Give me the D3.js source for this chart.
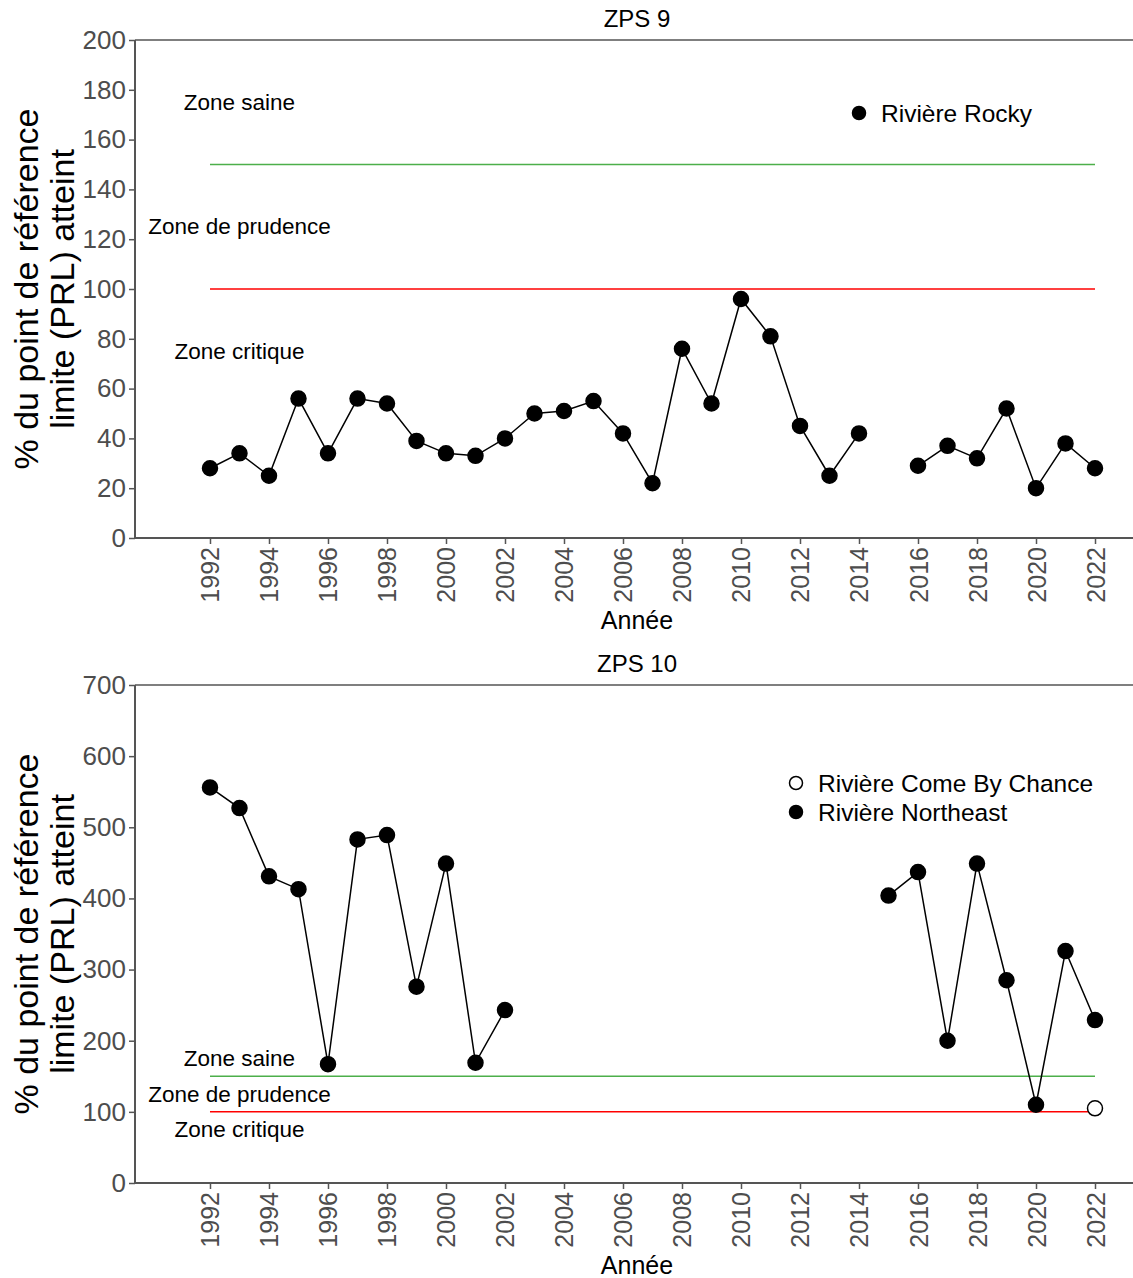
<!DOCTYPE html>
<html>
<head>
<meta charset="utf-8">
<script src="https://cdn.jsdelivr.net/npm/d3@7"></script>
<style>
  body { margin: 0; background: #fff; }
  text { font-family: "Liberation Sans", Arial, sans-serif; }
</style>
</head>
<body>
<div id="chart"></div>
<script>
// ---- data ----
const years = [1992, 1993, 1994, 1995, 1996, 1997, 1998, 1999, 2000, 2001, 2002,
               2003, 2004, 2005, 2006, 2007, 2008, 2009, 2010, 2011, 2012, 2013,
               2014, 2015, 2016, 2017, 2018, 2019, 2020, 2021, 2022];

// ZPS 9 - Rivière Rocky (null = pas de donnée)
const rockyValues = [28, 34, 25, 56, 34, 56, 54, 39, 34, 33, 40,
                     50, 51, 55, 42, 22, 76, 54, 96, 81, 45, 25,
                     42, null, 29, 37, 32, 52, 20, 38, 28];

// ZPS 10 - Rivière Northeast
const northeastValues = [556, 527, 431, 413, 167, 483, 489, 276, 449, 169, 243,
                         null, null, null, null, null, null, null, null, null, null, null,
                         null, 404, 437, 200, 449, 285, 110, 326, 229];

// ZPS 10 - Rivière Come By Chance
const comeByChanceYears = [2022];
const comeByChanceValues = [105];

const xTicks = [1992, 1994, 1996, 1998, 2000, 2002, 2004, 2006, 2008, 2010,
                2012, 2014, 2016, 2018, 2020, 2022];
const yTicksZps9 = [0, 20, 40, 60, 80, 100, 120, 140, 160, 180, 200];
const yTicksZps10 = [0, 100, 200, 300, 400, 500, 600, 700];

const healthyRef = 150;   // limite zone saine
const limitRef = 100;     // PRL
const zoneLabels = [
  {label: 'Zone saine', v: 175},
  {label: 'Zone de prudence', v: 125},
  {label: 'Zone critique', v: 75}
];

// ---- layout ----
const width = 1133, height = 1278;
const axisColor = '#555555';
const tickColor = '#4d4d4d';

let svg = d3.select('#chart')
            .append('svg')
            .attr('width', width)
            .attr('height', height);

let x = d3.scaleLinear()
          .domain([1989.458, 2023.288])
          .range([135, 1133]);

function drawPanel(opts) {
  let g = svg.append('g');
  let top = opts.top, bottom = opts.bottom;

  let y = d3.scaleLinear()
            .domain([0, opts.yMax])
            .range([bottom, top]);

  // title
  g.append('text')
   .attr('x', 637)
   .attr('y', top - 22)
   .attr('text-anchor', 'middle')
   .attr('dominant-baseline', 'central')
   .attr('font-size', '24px')
   .text(opts.title);

  // top border
  g.append('line')
   .attr('x1', x.range()[0]).attr('x2', x.range()[1])
   .attr('y1', top).attr('y2', top)
   .style('stroke', axisColor).style('stroke-width', 1.5);

  // y axis
  let yAxis = g.append('g')
               .attr('transform', 'translate(' + x.range()[0] + ',0)')
               .call(d3.axisLeft(y).tickValues(opts.yTicks).tickSize(6).tickPadding(3));
  yAxis.select('.domain').style('stroke', axisColor).style('stroke-width', 2)
       .attr('d', 'M0,' + bottom + 'V' + top);
  yAxis.selectAll('.tick line').style('stroke', axisColor).style('stroke-width', 1.5);
  yAxis.selectAll('.tick text')
       .attr('font-size', '26px')
       .attr('font-family', '"Liberation Sans", Arial, sans-serif')
       .attr('fill', tickColor);

  // x axis
  let xAxis = g.append('g')
               .attr('transform', 'translate(0,' + bottom + ')')
               .call(d3.axisBottom(x).tickValues(xTicks).tickFormat(d3.format('d')).tickSize(6));
  xAxis.select('.domain').style('stroke', axisColor).style('stroke-width', 2)
       .attr('d', 'M' + x.range()[0] + ',0H' + x.range()[1]);
  xAxis.selectAll('.tick line').style('stroke', axisColor).style('stroke-width', 1.5);
  xAxis.selectAll('.tick text')
       .attr('font-size', '25px')
       .attr('font-family', '"Liberation Sans", Arial, sans-serif')
       .attr('fill', tickColor)
       .attr('text-anchor', 'end')
       .attr('dominant-baseline', 'central')
       .attr('transform', 'rotate(-90)')
       .attr('x', -9)
       .attr('y', 0)
       .attr('dy', null);

  // axis titles
  g.append('text')
   .attr('x', 637)
   .attr('y', bottom + 82)
   .attr('text-anchor', 'middle')
   .attr('dominant-baseline', 'central')
   .attr('font-size', '25px')
   .text('Année');

  let midY = (top + bottom) / 2;
  let yt = g.append('text')
            .attr('transform', 'translate(26,' + midY + ') rotate(-90)')
            .attr('text-anchor', 'middle')
            .attr('font-size', '34px');
  yt.append('tspan').attr('x', 0).attr('y', 0).attr('dominant-baseline', 'central')
    .text('% du point de référence');
  yt.append('tspan').attr('x', 0).attr('y', 36).attr('dominant-baseline', 'central')
    .text('limite (PRL) atteint');

  // reference lines
  g.append('line')
   .attr('x1', x(1992)).attr('x2', x(2022))
   .attr('y1', y(healthyRef)).attr('y2', y(healthyRef))
   .style('stroke', '#4daf4a').style('stroke-width', 1.5);
  g.append('line')
   .attr('x1', x(1992)).attr('x2', x(2022))
   .attr('y1', y(limitRef)).attr('y2', y(limitRef))
   .style('stroke', '#ff0000').style('stroke-width', 1.5);

  // zone labels
  g.selectAll('.zone')
   .data(zoneLabels)
   .enter().append('text')
   .attr('class', 'zone')
   .attr('x', x(1993))
   .attr('y', d => y(d.v))
   .attr('text-anchor', 'middle')
   .attr('dominant-baseline', 'central')
   .attr('font-size', '22.5px')
   .text(d => d.label);

  // series
  opts.series.forEach(s => {
    let pts = s.years.map((yr, i) => ({year: yr, v: s.values[i]}));
    let line = d3.line()
                 .defined(d => d.v !== null)
                 .x(d => x(d.year))
                 .y(d => y(d.v));
    g.append('path')
     .datum(pts)
     .attr('d', line)
     .style('fill', 'none')
     .style('stroke', '#000')
     .style('stroke-width', 1.5);
    g.selectAll(null)
     .data(pts.filter(d => d.v !== null))
     .enter().append('circle')
     .attr('cx', d => x(d.year))
     .attr('cy', d => y(d.v))
     .attr('r', 7.5)
     .style('fill', s.filled ? '#000' : '#fff')
     .style('stroke', '#000')
     .style('stroke-width', 1.5);
  });

  // legend
  let lg = g.append('g').attr('transform', 'translate(' + opts.legend[0] + ',' + opts.legend[1] + ')');
  opts.legendItems.forEach((item, i) => {
    lg.append('circle')
      .attr('cx', 0).attr('cy', i * 29)
      .attr('r', 6.5)
      .style('fill', item.filled ? '#000' : '#fff')
      .style('stroke', '#000')
      .style('stroke-width', 1.5);
    lg.append('text')
      .attr('x', 22).attr('y', i * 29)
      .attr('dominant-baseline', 'central')
      .attr('font-size', '24.5px')
      .text(item.label);
  });
}

drawPanel({
  title: 'ZPS 9',
  top: 40, bottom: 538,
  yMax: 200,
  yTicks: yTicksZps9,
  series: [
    {years: years, values: rockyValues, filled: true}
  ],
  legend: [859, 113],
  legendItems: [{label: 'Rivière Rocky', filled: true}]
});

drawPanel({
  title: 'ZPS 10',
  top: 685, bottom: 1183,
  yMax: 700,
  yTicks: yTicksZps10,
  series: [
    {years: years, values: northeastValues, filled: true},
    {years: comeByChanceYears, values: comeByChanceValues, filled: false}
  ],
  legend: [796, 783],
  legendItems: [
    {label: 'Rivière Come By Chance', filled: false},
    {label: 'Rivière Northeast', filled: true}
  ]
});
</script>
</body>
</html>
